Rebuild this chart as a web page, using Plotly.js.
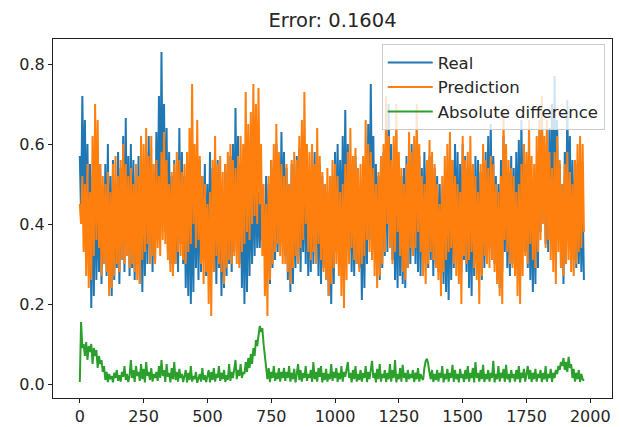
<!DOCTYPE html>
<html>
<head>
<meta charset="utf-8">
<script src="https://cdn.plot.ly/plotly-3.0.1.min.js"></script>
<style>html,body{margin:0;padding:0;background:#fff;}#chart{width:620px;height:427px;}</style>
</head>
<body>
<div id="chart"></div>
<script>
const STEP = 5;
const seriesNames = ["Real", "Prediction", "Absolute difference"];
const real = [
0.57,0.42,0.72,0.45,0.66,0.38,0.60,0.30,0.55,0.19,0.52,0.22,0.58,0.26,0.50,0.28,0.55,0.25,0.48,0.30,
0.55,0.27,0.60,0.24,0.52,0.22,0.56,0.26,0.50,0.29,0.58,0.25,0.54,0.31,0.62,0.28,0.665,0.33,0.57,0.27,
0.60,0.29,0.56,0.26,0.52,0.30,0.57,0.25,0.50,0.23,0.54,0.27,0.58,0.30,0.62,0.33,0.55,0.28,0.53,0.31,
0.63,0.36,0.72,0.40,0.83,0.45,0.70,0.38,0.64,0.33,0.58,0.30,0.52,0.27,0.56,0.30,0.53,0.28,0.64,0.35,
0.58,0.30,0.52,0.24,0.48,0.22,0.55,0.20,0.50,0.23,0.57,0.29,0.53,0.26,0.56,0.28,0.52,0.31,0.55,0.27,
0.50,0.27,0.58,0.30,0.54,0.28,0.52,0.25,0.56,0.29,0.50,0.22,0.48,0.24,0.55,0.27,0.53,0.30,0.57,0.28,
0.60,0.33,0.69,0.38,0.62,0.30,0.55,0.24,0.50,0.20,0.54,0.23,0.57,0.27,0.53,0.30,0.58,0.32,0.55,0.34,
0.48,0.34,0.46,0.36,0.45,0.32,0.52,0.28,0.50,0.25,0.56,0.29,0.54,0.31,0.60,0.33,0.57,0.35,0.63,0.38,
0.58,0.32,0.54,0.26,0.50,0.23,0.55,0.25,0.52,0.29,0.57,0.31,0.59,0.28,0.55,0.33,0.58,0.30,0.53,0.27,
0.50,0.28,0.56,0.30,0.58,0.32,0.53,0.27,0.55,0.25,0.52,0.29,0.50,0.26,0.48,0.22,0.46,0.20,0.52,0.25,
0.58,0.33,0.60,0.35,0.56,0.30,0.62,0.36,0.685,0.38,0.60,0.33,0.55,0.28,0.53,0.27,0.57,0.30,0.52,0.29,
0.46,0.21,0.50,0.24,0.56,0.30,0.65,0.36,0.75,0.42,0.62,0.35,0.55,0.30,0.52,0.26,0.56,0.29,0.58,0.32,
0.62,0.33,0.70,0.40,0.60,0.31,0.52,0.26,0.50,0.24,0.55,0.27,0.52,0.25,0.54,0.24,0.57,0.29,0.56,0.30,
0.60,0.32,0.56,0.30,0.53,0.28,0.57,0.27,0.54,0.30,0.58,0.33,0.55,0.29,0.57,0.31,0.52,0.27,0.54,0.30,
0.52,0.28,0.50,0.26,0.48,0.25,0.52,0.23,0.50,0.21,0.54,0.26,0.56,0.29,0.60,0.32,0.58,0.30,0.55,0.28,
0.60,0.31,0.57,0.28,0.54,0.24,0.50,0.22,0.55,0.27,0.57,0.30,0.56,0.28,0.53,0.26,0.55,0.29,0.58,0.31,
0.62,0.34,0.65,0.36,0.57,0.30,0.52,0.26,0.50,0.24,0.56,0.28,0.62,0.33,0.55,0.29,0.53,0.27,0.57,0.30,
0.54,0.30,0.58,0.32,0.61,0.31,0.66,0.36,0.60,0.33,0.55,0.29,0.50,0.26,0.48,0.23,0.52,0.25,0.55,0.29,
0.62,0.38,0.70,0.42,0.60,0.35,0.58,0.33,0.64,0.36,0.70,0.40,0.77,0.44,0.66,0.37,0.55,0.30,0.50,0.25,
0.58,0.34,0.71,0.40,0.62,0.35,0.56,0.31,0.53,0.29,0.55,0.30,0.50,0.28,0.46,0.26
];
const prediction = [
0.45,0.40,0.52,0.33,0.50,0.27,0.55,0.24,0.48,0.26,0.62,0.32,0.70,0.36,0.66,0.34,0.55,0.27,0.52,0.30,
0.50,0.28,0.53,0.22,0.48,0.24,0.55,0.27,0.57,0.30,0.52,0.28,0.56,0.31,0.60,0.30,0.55,0.32,0.52,0.29,
0.54,0.30,0.50,0.28,0.55,0.26,0.52,0.25,0.62,0.31,0.60,0.33,0.64,0.35,0.57,0.30,0.62,0.32,0.55,0.30,
0.56,0.34,0.52,0.32,0.58,0.36,0.63,0.35,0.56,0.31,0.50,0.28,0.53,0.27,0.55,0.30,0.58,0.33,0.56,0.32,
0.53,0.31,0.55,0.30,0.58,0.33,0.64,0.35,0.75,0.40,0.60,0.34,0.66,0.36,0.57,0.30,0.52,0.25,0.50,0.28,
0.45,0.20,0.48,0.17,0.56,0.28,0.62,0.32,0.55,0.30,0.57,0.28,0.53,0.25,0.55,0.29,0.58,0.31,0.60,0.30,
0.56,0.32,0.54,0.30,0.57,0.29,0.62,0.33,0.60,0.35,0.73,0.38,0.65,0.36,0.68,0.40,0.75,0.42,0.70,0.40,
0.74,0.45,0.60,0.32,0.50,0.22,0.45,0.17,0.52,0.26,0.56,0.30,0.60,0.33,0.65,0.35,0.58,0.32,0.55,0.30,
0.52,0.30,0.55,0.28,0.50,0.25,0.56,0.29,0.58,0.32,0.56,0.30,0.62,0.34,0.66,0.36,0.73,0.40,0.60,0.33,
0.58,0.31,0.60,0.33,0.55,0.30,0.64,0.35,0.57,0.31,0.53,0.28,0.50,0.26,0.54,0.22,0.52,0.25,0.56,0.29,
0.55,0.30,0.52,0.27,0.48,0.22,0.50,0.19,0.55,0.26,0.58,0.30,0.64,0.34,0.57,0.31,0.59,0.30,0.54,0.28,
0.55,0.30,0.57,0.32,0.66,0.36,0.60,0.33,0.58,0.31,0.54,0.27,0.50,0.24,0.53,0.27,0.57,0.30,0.60,0.33,
0.72,0.40,0.62,0.34,0.56,0.30,0.62,0.33,0.70,0.38,0.58,0.32,0.54,0.28,0.50,0.26,0.55,0.29,0.63,0.34,
0.58,0.32,0.62,0.34,0.70,0.38,0.60,0.33,0.52,0.27,0.50,0.25,0.56,0.30,0.61,0.33,0.58,0.31,0.55,0.29,
0.50,0.26,0.45,0.22,0.52,0.28,0.57,0.31,0.60,0.33,0.63,0.34,0.56,0.30,0.52,0.27,0.50,0.25,0.48,0.20,
0.62,0.32,0.56,0.30,0.58,0.31,0.62,0.33,0.55,0.29,0.52,0.26,0.48,0.20,0.55,0.27,0.60,0.32,0.56,0.30,
0.54,0.29,0.57,0.31,0.55,0.28,0.50,0.25,0.48,0.22,0.52,0.20,0.68,0.36,0.60,0.33,0.56,0.30,0.54,0.29,
0.52,0.27,0.48,0.22,0.50,0.20,0.55,0.27,0.60,0.32,0.58,0.30,0.66,0.35,0.57,0.31,0.55,0.29,0.62,0.33,
0.66,0.36,0.72,0.40,0.62,0.34,0.66,0.36,0.58,0.31,0.54,0.28,0.58,0.25,0.62,0.33,0.56,0.29,0.50,0.27,
0.55,0.30,0.58,0.31,0.53,0.28,0.50,0.27,0.56,0.30,0.60,0.33,0.62,0.34,0.60,0.38
];
const absDiff = [
0.005,0.155,0.09,0.10,0.07,0.105,0.06,0.095,0.08,0.10,0.05,0.09,0.07,0.085,0.04,0.07,0.05,0.06,0.03,0.045,
0.01,0.03,0.005,0.025,0.012,0.02,0.004,0.028,0.015,0.035,0.008,0.022,0.006,0.03,0.018,0.045,0.01,0.025,0.005,0.02,
0.06,0.015,0.035,0.005,0.045,0.02,0.03,0.008,0.05,0.012,0.038,0.004,0.055,0.02,0.03,0.01,0.04,0.006,0.025,0.015,
0.03,0.008,0.045,0.015,0.06,0.02,0.035,0.005,0.05,0.018,0.028,0.004,0.04,0.012,0.055,0.01,0.03,0.006,0.038,0.015,
0.025,0.005,0.02,0.035,0.004,0.028,0.01,0.045,0.006,0.02,0.012,0.03,0.003,0.018,0.025,0.006,0.04,0.01,0.022,0.005,
0.02,0.035,0.004,0.03,0.01,0.04,0.006,0.025,0.015,0.045,0.008,0.028,0.012,0.035,0.005,0.022,0.01,0.05,0.008,0.03,
0.015,0.04,0.06,0.012,0.035,0.02,0.05,0.015,0.03,0.025,0.055,0.03,0.065,0.04,0.075,0.05,0.09,0.07,0.11,0.095,
0.12,0.145,0.13,0.14,0.10,0.07,0.035,0.012,0.04,0.005,0.03,0.015,0.045,0.008,0.028,0.012,0.04,0.006,0.03,0.015,
0.04,0.008,0.03,0.015,0.045,0.006,0.028,0.012,0.038,0.004,0.025,0.05,0.01,0.035,0.006,0.028,0.015,0.045,0.008,0.025,
0.015,0.035,0.005,0.055,0.012,0.03,0.006,0.04,0.018,0.045,0.004,0.028,0.01,0.038,0.006,0.025,0.012,0.05,0.008,0.03,
0.015,0.04,0.005,0.028,0.012,0.045,0.006,0.03,0.018,0.035,0.055,0.015,0.028,0.004,0.035,0.012,0.045,0.006,0.025,0.01,
0.035,0.006,0.028,0.015,0.045,0.005,0.03,0.012,0.04,0.058,0.015,0.028,0.004,0.038,0.012,0.05,0.006,0.025,0.015,0.035,
0.005,0.028,0.012,0.05,0.006,0.035,0.015,0.06,0.004,0.025,0.012,0.04,0.006,0.048,0.015,0.028,0.005,0.035,0.012,0.025,
0.015,0.035,0.005,0.028,0.012,0.04,0.006,0.025,0.015,0.01,0.04,0.058,0.063,0.05,0.028,0.012,0.035,0.005,0.025,0.01,
0.035,0.006,0.028,0.015,0.045,0.004,0.025,0.012,0.038,0.006,0.028,0.015,0.048,0.005,0.035,0.012,0.025,0.004,0.038,0.015,
0.025,0.005,0.035,0.012,0.045,0.006,0.028,0.015,0.04,0.004,0.055,0.015,0.028,0.006,0.035,0.012,0.048,0.005,0.025,0.012,
0.035,0.006,0.028,0.015,0.058,0.004,0.025,0.012,0.045,0.006,0.028,0.015,0.038,0.005,0.048,0.012,0.025,0.004,0.035,0.015,
0.025,0.006,0.035,0.012,0.045,0.004,0.028,0.015,0.038,0.006,0.025,0.045,0.012,0.035,0.005,0.028,0.012,0.038,0.006,0.025,
0.015,0.035,0.005,0.028,0.012,0.045,0.006,0.025,0.015,0.038,0.005,0.028,0.015,0.035,0.025,0.045,0.035,0.055,0.045,0.065,
0.035,0.055,0.03,0.068,0.04,0.05,0.015,0.038,0.006,0.028,0.012,0.035,0.005,0.025,0.012,0.008
];
const xTicks = [0, 250, 500, 750, 1000, 1250, 1500, 1750, 2000];
const yTicks = [0.0, 0.2, 0.4, 0.6, 0.8];
const titleText = "Error: 0.1604";

const idx = arr => arr.map((_, i) => i * STEP);
const colors = ["#1f77b4", "#ff7f0e", "#2ca02c"];
const data = [real, prediction, absDiff].map((ys, k) => ({
  x: idx(ys), y: ys, type: "scatter", mode: "lines", name: seriesNames[k],
  line: {color: colors[k], width: 2}
}));
const font = {family: "DejaVu Sans, sans-serif", size: 16, color: "#262626"};
const axisCommon = {
  showline: true, mirror: true, linecolor: "#222", linewidth: 1,
  ticks: "outside", ticklen: 4, tickcolor: "#222", tickwidth: 1,
  showgrid: false, zeroline: false, tickfont: font
};
const layout = {
  width: 620, height: 427,
  margin: {l: 53, r: 8, t: 39, b: 29, pad: 0},
  paper_bgcolor: "#fff", plot_bgcolor: "#fff",
  font: font,
  title: {text: titleText, font: {family: "DejaVu Sans, sans-serif", size: 19.5, color: "#262626"},
          x: 0.5, xref: "paper", y: 1 - 20/427, yref: "container", yanchor: "middle"},
  xaxis: Object.assign({}, axisCommon, {range: [-105, 2085], tickvals: xTicks, ticktext: xTicks.map(String)}),
  yaxis: Object.assign({}, axisCommon, {range: [-0.035, 0.8625], tickvals: yTicks, ticktext: yTicks.map(v => v.toFixed(1))}),
  showlegend: true,
  legend: {x: 0.987, xanchor: "right", y: 0.985, yanchor: "top",
           bgcolor: "rgba(255,255,255,0.8)", bordercolor: "#cccccc", borderwidth: 1,
           font: {family: "DejaVu Sans, sans-serif", size: 16.5, color: "#262626"},
           tracegroupgap: 0, itemwidth: 45}
};
Plotly.newPlot("chart", data, layout, {staticPlot: true, displayModeBar: false});
</script>
</body>
</html>
